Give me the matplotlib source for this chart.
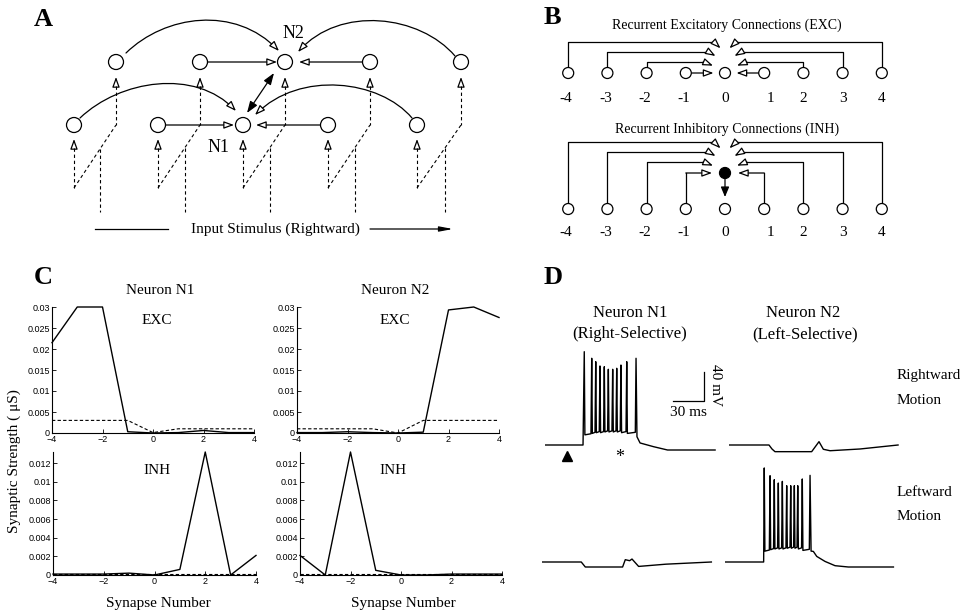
import matplotlib
matplotlib.use("Agg")
import matplotlib.pyplot as plt
from matplotlib.patches import Circle, FancyArrowPatch
from matplotlib.path import Path

plt.rcParams["font.family"] = ["Liberation Serif", "DejaVu Serif"]

W, H = 960, 615

# panel C: learned synaptic strengths (uS), solid = learned, dashed = initial
synapse = [-4, -3, -2, -1, 0, 1, 2, 3, 4]
n1_exc = [0.0215, 0.030, 0.030, 0.0003, 0.0, 0.0001, 0.0006, 0.0001, 0.0001]
n1_exc_init = [0.003, 0.003, 0.003, 0.003, 0.0001, 0.001, 0.001, 0.001, 0.001]
n2_exc = [0.0001, 0.0001, 0.0003, 0.0001, 0.0, 0.0002, 0.0293, 0.030, 0.0275]
n2_exc_init = [0.001, 0.001, 0.001, 0.001, 0.0, 0.003, 0.003, 0.003, 0.003]
n1_inh = [0.0001, 0.0001, 0.0001, 0.0002, 0.0, 0.0006, 0.0132, 0.0, 0.0021]
n1_inh_init = [0.0001] * 9
n2_inh = [0.0021, 0.0, 0.0132, 0.0005, 0.0, 0.0, 0.0001, 0.0001, 0.0001]
n2_inh_init = [0.0001] * 9

exc_ticks = [0, 0.005, 0.01, 0.015, 0.02, 0.025, 0.03]
exc_ticklabels = ["0", "0.005", "0.01", "0.015", "0.02", "0.025", "0.03"]
inh_ticks = [0, 0.002, 0.004, 0.006, 0.008, 0.01, 0.012]
inh_ticklabels = ["0", "0.002", "0.004", "0.006", "0.008", "0.01", "0.012"]

# panel D: membrane potential (ms, mV)
n1_right_pre_t = [0, 36.8]
n1_right_pre_v = [-65, -65]
n1_right_spike_t = [38.0, 45.2, 49.1, 53.2, 57.4, 61.3, 65.5, 69.4, 73.5, 79.1, 88.1]
n1_right_spike_v = [63.7, 54.6, 49.9, 44.0, 43.0, 39.4, 39.4, 40.8, 45.3, 49.9, 54.6]
n1_right_trough_v = [-51, -49, -48, -48, -47, -47, -47, -47, -48, -49]
n1_right_post_t = [89.0, 92.0, 105.0, 118.6, 164.6]
n1_right_post_v = [-53.6, -62.2, -67.3, -71.9, -71.9]

n2_left_pre_t = [0, 37.4]
n2_left_pre_v = [-65, -65]
n2_left_spike_t = [38.0, 43.6, 47.7, 51.6, 55.5, 59.7, 63.6, 67.1, 70.4, 74.8, 82.3]
n2_left_spike_v = [64.7, 54.0, 48.5, 43.9, 46.2, 40.2, 40.2, 40.2, 40.2, 49.5, 54.5]
n2_left_trough_v = [-50, -48, -47, -47, -47, -46, -46, -46, -47, -49]
n2_left_post_t = [83.3, 85.5, 88.8, 96.8, 106.5, 119.4, 163.0]
n2_left_post_v = [-50.0, -50.4, -57.3, -64.2, -70.1, -71.9, -71.9]

n2_right_t = [0, 38.7, 41.6, 44.5, 80.0, 87.1, 91.3, 97.8, 126.8, 163.6]
n2_right_v = [-65, -65, -70.5, -74.2, -74.2, -60.4, -70.9, -72.9, -70.5, -65]
n1_left_t = [0, 38.0, 41.9, 78.0, 80.6, 84.8, 87.1, 93.5, 120.0, 163.9]
n1_left_v = [-65, -65, -71.9, -71.9, -61.8, -63.2, -60.9, -71.1, -68.0, -65]

B_LABELS = ["-4", "-3", "-2", "-1", "0", "1", "2", "3", "4"]

PX_MS = 31 / 30
PX_MV = 29 / 40


def px_rect(x0, y0, x1, y1):
    return [x0 / W, 1 - y1 / H, (x1 - x0) / W, (y1 - y0) / H]


def circle(ax, x, y, r, filled=False):
    ax.add_patch(Circle((x, y), r, fc="black" if filled else "white", ec="black", lw=0.9, zorder=3))


def arrow(ax, p0, p1, style="-|>", hl=0.6, hw=0.22, fc="white", lw=0.9, path=None):
    kw = dict(arrowstyle=f"{style},head_length={hl},head_width={hw}", mutation_scale=10,
              fc=fc, ec="black", lw=lw, shrinkA=0, shrinkB=0, zorder=2)
    if path is not None:
        ax.add_patch(FancyArrowPatch(path=path, **kw))
    else:
        ax.add_patch(FancyArrowPatch(p0, p1, **kw))


def dashed(ax, xs, ys):
    ax.plot(xs, ys, color="black", lw=0.8, dashes=(3, 2.5))


def panel_a(ax):
    top_x = [116, 200, 285, 370, 461]
    bot_x = [74, 158, 243, 328, 417]
    in_x = [100, 185, 270, 355, 445]
    ty, by, r = 62, 125, 7.5
    for tx, bx, ix in zip(top_x, bot_x, in_x):
        circle(ax, tx, ty, r)
        circle(ax, bx, by, r)
        arrow(ax, (tx, 86), (tx, 77))
        arrow(ax, (bx, 148), (bx, 139))
        dashed(ax, [tx, tx], [86, by])
        dashed(ax, [bx, bx], [148, 188])
        dashed(ax, [bx, tx], [188, by])
        yc = 188 - (ix - bx) / (tx - bx) * (188 - by)
        dashed(ax, [ix, ix], [yc, 212])
    arrow(ax, (207.5, ty), (277, ty))
    arrow(ax, (362.5, ty), (299, ty))
    arrow(ax, (165.5, by), (234, by))
    arrow(ax, (320.5, by), (256, by))
    arcs = [
        [(126, 53), (165, 15), (235, 5), (279, 51)],
        [(455, 56), (420, 15), (340, 5), (298, 52)],
        [(80, 118), (120, 80), (195, 68), (236, 111)],
        [(412, 118), (380, 80), (300, 70), (255, 115)],
    ]
    for pts in arcs:
        arrow(ax, None, None, path=Path(pts, [Path.MOVETO, Path.CURVE4, Path.CURVE4, Path.CURVE4]))
    arrow(ax, (247, 113), (274, 73), style="<|-|>", fc="black", hl=0.7, hw=0.25)
    ax.text(293, 34, "N2", fontsize=13, ha="center", va="center")
    ax.text(219, 148, "N1", fontsize=13, ha="center", va="center")
    ax.plot([95, 168], [229, 229], color="black", lw=0.9)
    ax.text(275, 229, "Input Stimulus (Rightward)", fontsize=11, ha="center", va="center")
    arrow(ax, (370, 229), (453, 229), fc="black", hl=0.8, hw=0.15)
    ax.text(43, 19, "A", fontsize=19, fontweight="bold", ha="center", va="center")


def fan(ax, yc, node_y, label_y, inhibitory):
    xc, step, r = 725, 39.2, 5.5
    corner_dx = [None, 21.7, 16.7, 11]
    corner_dy = [0, -11.3, -21.3, -31]
    tip_dx = [11.5, 12, 9.5, 4.5]
    tip_dy = [0, -7.3, -17, -24.7]
    for i, lab in enumerate(B_LABELS):
        x = xc + (i - 4) * step
        circle(ax, x, node_y, r)
        ax.text(x + (6 if lab == "1" else 0) - (2 if lab.startswith("-") else 0), label_y, lab,
                fontsize=11, ha="center", va="center")
    for k in range(1, 5):
        for s in (-1, 1):
            nx = xc + s * k * step
            tip = (xc + s * tip_dx[k - 1], yc + tip_dy[k - 1])
            if k == 1:
                if inhibitory:
                    ax.plot([nx, nx], [node_y - r, yc], color="black", lw=0.9)
                    arrow(ax, (nx, yc), (xc + s * 13, yc))
                else:
                    arrow(ax, (nx - s * r, yc), tip)
                continue
            cy = yc + corner_dy[k - 1]
            cx = xc + s * corner_dx[k - 1]
            ax.plot([nx, nx, cx], [node_y - r, cy, cy], color="black", lw=0.9)
            arrow(ax, (cx, cy), tip)
    if inhibitory:
        circle(ax, xc, yc, r, filled=True)
        arrow(ax, (xc, yc + r), (xc, node_y - 12), fc="black", hl=0.6, hw=0.25)


def panel_b(ax):
    ax.text(552, 18, "B", fontsize=19, fontweight="bold", ha="center", va="center")
    ax.text(727, 25, "Recurrent Excitatory Connections (EXC)", fontsize=10, ha="center", va="center")
    fan(ax, 73, 73, 98, False)
    ax.text(727, 129, "Recurrent Inhibitory Connections (INH)", fontsize=10, ha="center", va="center")
    fan(ax, 173, 209, 232, True)


def strength_axes(fig, rect, learned, initial, ticks, ticklabels):
    ax = fig.add_axes(px_rect(*rect))
    ax.plot(synapse, learned, color="black", lw=1.0, clip_on=False)
    ax.plot(synapse, initial, color="black", lw=0.8, dashes=(3, 2), clip_on=False)
    ax.set_xlim(-4, 4)
    ax.set_ylim(0, ticks[-1] * 1.1 if ticks[-1] < 0.02 else ticks[-1])
    ax.set_xticks([-4, -2, 0, 2, 4])
    ax.set_xticklabels(["\u22124", "\u22122", "0", "2", "4"])
    ax.set_yticks(ticks)
    ax.set_yticklabels(ticklabels)
    for side in ("top", "right"):
        ax.spines[side].set_visible(False)
    for side in ("left", "bottom"):
        ax.spines[side].set_linewidth(0.8)
    ax.tick_params(direction="in", length=3, width=0.6, pad=1.5, labelsize=6.5)
    for lab in ax.get_xticklabels() + ax.get_yticklabels():
        lab.set_family("Liberation Sans")
    ax.patch.set_alpha(0)
    return ax


def trace_axes(fig, x0, y_rest, rest_v=-65):
    w, top, bottom = 180, 105, 20
    ax = fig.add_axes(px_rect(x0, y_rest - top, x0 + w, y_rest + bottom))
    ax.set_xlim(0, w / PX_MS)
    ax.set_ylim(rest_v - bottom / PX_MV, rest_v + top / PX_MV)
    ax.axis("off")
    return ax


def burst(pre_t, pre_v, spike_t, spike_v, trough_v, post_t, post_v):
    t, v = list(pre_t), list(pre_v)
    for i, (st, sv) in enumerate(zip(spike_t, spike_v)):
        t.append(st)
        v.append(sv)
        if i < len(trough_v):
            t += [st + 0.6, spike_t[i + 1] - 0.7]
            v += [trough_v[i], trough_v[i] + 1.5]
    return t + list(post_t), v + list(post_v)


def main():
    fig = plt.figure(figsize=(W / 100, H / 100), dpi=100)
    ov = fig.add_axes([0, 0, 1, 1])
    ov.set_xlim(0, W)
    ov.set_ylim(H, 0)
    ov.axis("off")

    panel_a(ov)
    panel_b(ov)

    # panel C
    ov.text(43, 278, "C", fontsize=19, fontweight="bold", ha="center", va="center")
    ov.text(160, 290, "Neuron N1", fontsize=11, ha="center", va="center")
    ov.text(395, 290, "Neuron N2", fontsize=11, ha="center", va="center")
    strength_axes(fig, (52, 307, 254, 433), n1_exc, n1_exc_init, exc_ticks, exc_ticklabels)
    strength_axes(fig, (297, 307, 499, 433), n2_exc, n2_exc_init, exc_ticks, exc_ticklabels)
    strength_axes(fig, (53, 452, 256, 575), n1_inh, n1_inh_init, inh_ticks, inh_ticklabels)
    strength_axes(fig, (300, 452, 502, 575), n2_inh, n2_inh_init, inh_ticks, inh_ticklabels)
    for x, y, s in [(157, 320, "EXC"), (395, 320, "EXC"), (157, 470, "INH"), (393, 470, "INH")]:
        ov.text(x, y, s, fontsize=11, ha="center", va="center")
    ov.text(14, 461, "Synaptic Strength ( \u03bcS)", fontsize=11, rotation=90, ha="center", va="center")
    ov.text(158, 603, "Synapse Number", fontsize=11, ha="center", va="center")
    ov.text(403, 603, "Synapse Number", fontsize=11, ha="center", va="center")

    # panel D
    ov.text(553, 277, "D", fontsize=19, fontweight="bold", ha="center", va="center")
    ov.text(630, 313, "Neuron N1", fontsize=12, ha="center", va="center")
    ov.text(630, 334, "(Right-Selective)", fontsize=12, ha="center", va="center")
    ov.text(803, 313, "Neuron N2", fontsize=12, ha="center", va="center")
    ov.text(805, 334, "(Left-Selective)", fontsize=12, ha="center", va="center")

    ax = trace_axes(fig, 545, 445)
    ax.plot(*burst(n1_right_pre_t, n1_right_pre_v, n1_right_spike_t, n1_right_spike_v,
                   n1_right_trough_v, n1_right_post_t, n1_right_post_v), color="black", lw=1.0)
    ax.plot([123.9, 153.9, 153.9], [-3.9, -3.9, 36.1], color="black", lw=0.9)
    ax = trace_axes(fig, 729, 445)
    ax.plot(n2_right_t, n2_right_v, color="black", lw=1.0)
    ax = trace_axes(fig, 542, 562)
    ax.plot(n1_left_t, n1_left_v, color="black", lw=1.0)
    ax = trace_axes(fig, 725, 562)
    ax.plot(*burst(n2_left_pre_t, n2_left_pre_v, n2_left_spike_t, n2_left_spike_v,
                   n2_left_trough_v, n2_left_post_t, n2_left_post_v), color="black", lw=1.0)

    ov.text(716, 385, "40 mV", fontsize=11, rotation=270, ha="center", va="center")
    ov.text(688, 413, "30 ms", fontsize=11, ha="center", va="center")
    ov.plot([567], [456], marker="^", color="black", ms=7)
    ov.text(620, 457, "*", fontsize=13, ha="center", va="center")
    for y, s in [(375, "Rightward"), (400, "Motion"), (493, "Leftward"), (517, "Motion")]:
        ov.text(897, y, s, fontsize=11, ha="left", va="center")

    fig.savefig("out.png", dpi=100)
    plt.close(fig)


if __name__ == "__main__":
    main()
